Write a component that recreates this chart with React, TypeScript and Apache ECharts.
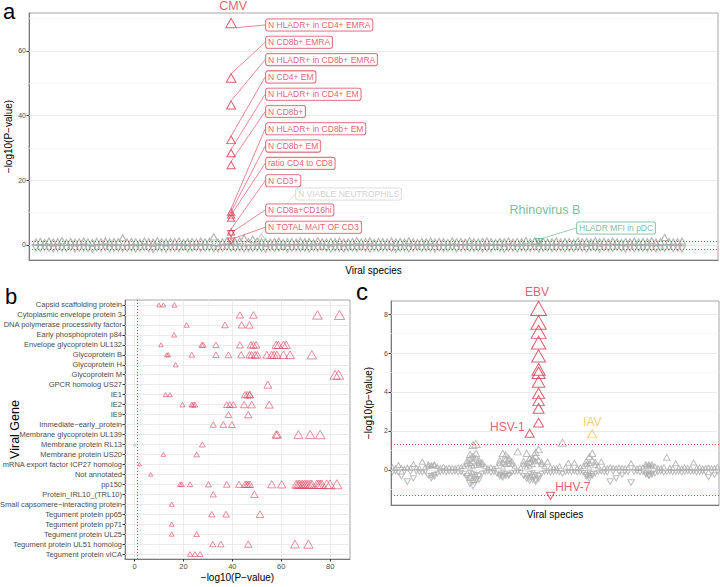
import React, { useEffect, useRef } from 'react';
import * as echarts from 'echarts';

const FONT = 'Liberation Sans, Arial, sans-serif';
const RED = '#d6374f';
const PINK = '#dc4a64';
const GRAY = '#a6a6a6';
const GREEN = '#5aab84';
const YELLOW = '#f0c24f';
const SIG = '#e3423d';

// ---------------- Panel a ----------------
const aUp = [
  0.9, 1.1, 0.8, 1.2, 0.9, 1.0, 1.3, 0.8, 1.1, 0.9,
  1.0, 1.2, 0.9, 0.8, 1.1, 1.0, 1.2, 0.9, 1.1, 1.0,
  2.2, 0.9, 1.1, 1.0, 0.8, 1.2, 1.0, 0.9, 1.3, 1.0,
  0.9, 1.1, 1.0, 1.2, 0.8, 1.0, 1.1, 0.9, 1.2, 1.0,
  1.1, 2.5, 0.9, 1.0, 1.2, 1.1, 0.9, 1.3, 2.1, 1.0,
  1.8, 1.2, 1.0, 1.0, 0.9, 1.1, 1.2, 0.8, 1.0, 1.1,
  0.9, 1.2, 1.0, 1.1, 0.8, 1.3, 1.0, 0.9, 1.1, 1.0,
  1.2, 0.9, 1.0, 1.1, 1.3, 0.9, 1.0, 1.2, 0.8, 1.1,
  1.0, 0.9, 1.2, 1.0, 1.1, 0.9, 1.3, 1.0, 0.8, 1.1,
  1.0, 1.2, 0.9, 1.1, 1.0, 0.8, 1.2, 1.0, 1.1, 0.9,
  1.3, 1.0, 0.9, 1.1, 1.2, 1.0, 0.8, 1.1, 1.0, 1.2,
  0.9, 1.1, 1.0, 1.3, 0.9, 1.2, 1.0, 1.1, 0.9, 1.0,
  1.2, 0.9, 1.1, 1.0, 0.8, 1.2, 1.0, 1.1, 0.9, 1.3,
  1.0, 1.1, 0.9, 1.2, 1.0, 0.8, 1.1, 1.0, 1.2, 0.9,
  1.1, 1.0, 1.3, 0.9, 1.0, 2.3, 1.1, 0.9, 1.0, 1.2,
];
const aDown = [
  -0.9, -1.1, -0.8, -1.0, -1.2, -0.9, -1.0, -1.1, -0.8, -1.2,
  -1.0, -0.9, -1.1, -1.3, -0.9, -1.0, -0.8, -1.2, -1.0, -0.9,
  -1.1, -1.0, -0.9, -1.2, -1.0, -0.8, -1.1, -1.3, -0.9, -1.0,
  -1.2, -0.9, -1.0, -1.1, -0.8, -1.2, -1.0, -0.9, -1.1, -1.0,
  -0.9, -1.1, -1.2, -1.0, -0.8, -1.0, -1.1, -0.9, -1.2, -1.0,
  -1.1, -0.9, -1.0, -1.3, -0.9, -1.1, -1.0, -0.8, -1.2, -1.0,
  -0.9, -1.1, -1.0, -1.2, -0.9, -1.0, -0.8, -1.1, -1.3, -0.9,
  -1.0, -1.2, -0.9, -1.0, -1.1, -0.8, -1.0, -1.2, -0.9, -1.1,
  -1.0, -0.9, -1.1, -1.3, -1.0, -0.9, -1.2, -1.0, -0.8, -1.1,
  -0.9, -1.0, -1.2, -0.9, -1.1, -1.0, -0.8, -1.2, -1.0, -0.9,
  -1.1, -1.0, -0.9, -1.2, -1.0, -1.1, -0.8, -1.0, -1.3, -0.9,
  -1.0, -1.2, -0.9, -1.1, -1.0, -0.8, -1.2, -1.0, -0.9, -1.1,
  -1.0, -0.9, -1.2, -1.0, -1.1, -0.8, -1.0, -1.3, -0.9, -1.0,
  -1.2, -0.9, -1.0, -1.1, -0.8, -1.0, -1.2, -0.9, -1.1, -1.0,
  -0.9, -1.1, -1.0, -1.2, -0.9, -1.0, -0.8, -1.1, -1.0, -1.2,
];
const cmvIndex = 45;
const cmvUp = [68.6, 51.6, 43.3, 32.5, 28.4, 24.7, 10.2, 9.3, 8.3, 4.0];
const cmvDown = [3.5, 1.2];
const cmvLabels = [
  'N HLADR+ in CD4+ EMRA', 'N CD8b+ EMRA', 'N HLADR+ in CD8b+ EMRA', 'N CD4+ EM',
  'N HLADR+ in CD4+ EM', 'N CD8b+', 'N HLADR+ in CD8b+ EM', 'N CD8b+ EM',
  'ratio CD4 to CD8', 'N CD3+', 'N CD8a+CD16hi', 'N TOTAL MAIT OF CD3',
];
const neutroIndex = 52;
const neutroValue = 2.6;
const neutroLabel = 'N VIABLE NEUTROPHILS';
const rhinoIndex = 116;
const rhinoValue = 1.1;
const rhinoLabel = 'HLADR MFI in pDC';
const aTicks = [0, 20, 40, 60];
const aGrid = [0, 10, 20, 30, 40, 50, 60, 70];
const sigValue = 1.3;

// ---------------- Panel b ----------------
const genes = [
  'Capsid scaffolding protein', 'Cytoplasmic envelope protein 3', 'DNA polymerase processivity factor',
  'Early phosphoprotein p84', 'Envelope glycoprotein UL132', 'Glycoprotein B', 'Glycoprotein H',
  'Glycoprotein M', 'GPCR homolog US27', 'IE1', 'IE2', 'IE9', 'Immediate\u2212early_protein',
  'Membrane glycoprotein UL139', 'Membrane protein RL13', 'Membrane protein US20',
  'mRNA export factor ICP27 homolog', 'Not annotated', 'pp150', 'Protein_IRL10_(TRL10)',
  'Small capsomere\u2212interacting protein', 'Tegument protein pp65', 'Tegument protein pp71',
  'Tegument protein UL25', 'Tegument protein UL51 homolog', 'Tegument protein vICA',
];
const geneHits: number[][] = [
  [10, 11.8, 16.3],
  [43.1, 48.6, 74.8, 83.8],
  [21.3, 37, 43.8, 47],
  [16.2],
  [10.8, 27.5, 28.1, 33.3, 43.1, 47.6, 48.6, 49.7, 57.9, 58.8, 60.9, 62],
  [13.2, 13.8, 23.4, 33.3, 38.4, 43.6, 47, 47.9, 49.3, 50.2, 54.1, 56.1, 57.1, 58.2, 60.9, 63.6, 72.5],
  [16.8],
  [82, 83.4],
  [54.5],
  [12.7, 14.5, 45.2, 46.1, 47, 47.2],
  [19.6, 23.4, 24, 24.7, 37.7, 39, 40.4, 44.8, 47.9, 55.1],
  [38.4, 46.5],
  [32.2, 36.3, 39.8],
  [57.9, 58.4, 67, 71.8, 75.9],
  [27.7],
  [11.8, 25.4],
  [2.0],
  [6.6],
  [18.6, 19.3, 22.7, 30.2, 37.7, 42.7, 45.2, 45.9, 46.5, 47.2, 56.1, 60.2, 66.1, 66.8, 67.4, 68.1,
    68.8, 69.5, 70.2, 70.9, 71.8, 72.5, 74.5, 75.2, 75.9, 76.6, 78.6, 79.9, 82.7],
  [32.2, 49],
  [15.2],
  [31.6, 37.4, 51.3],
  [15.2],
  [15.2, 25.4],
  [32, 35.3, 46.5, 65.6, 71.1],
  [22.7, 24.7, 26.8],
];
const bNonSigGene = 14;
const bNonSigValue = 0;
const bTicks = [0, 20, 40, 60, 80];
const bGrid = [0, 10, 20, 30, 40, 50, 60, 70, 80];

// ---------------- Panel c ----------------
const cUp = [
  0.15, 0.1, 0.26, 0.12, 0.08, 0.14, 0.1, 0.3, 0.12, 0.1,
  0.43, 0.15, 0.2, 0.25, 0.3, 0.18, 0.12, 0.17, 0.1, 0.14,
  0.12, 0.1, 0.15, 0.17, 0.2, 0.45, 0.6, 1.28, 0.85, 0.5,
  0.4, 0.2, 0.12, 0.15, 0.1, 0.18, 0.35, 0.85, 0.77, 0.5,
  0.3, 0.2, 0.94, 0.15, 0.45, 0.85, 0.6, 0.55, 0.7, 1.06,
  0.4, 0.2, 0.43, 0.15, 0.12, 0.1, 0.2, 1.4, 0.15, 0.37,
  0.1, 0.37, 0.12, 0.15, 0.2, 0.45, 0.68, 0.85, 0.4, 0.2,
  0.43, 0.12, 0.1, 0.15, 0.12, 0.1, 0.14, 0.12, 0.1, 0.12,
  0.34, 0.12, 0.1, 0.14, 0.15, 0.3, 0.25, 0.3, 0.2, 0.12,
  0.1, 0.15, 0.65, 0.12, 0.1, 0.34, 0.12, 0.1, 0.15, 0.12,
  0.1, 0.38, 0.12, 0.15, 0.1, 0.12, 0.14, 0.1, 0.12, 0.15,
];
const cDown = [
  -0.12, -0.1, -0.15, -0.34, -0.1, -0.6, -0.12, -0.43, -0.1, -0.12,
  -0.15, -0.1, -0.3, -0.43, -0.35, -0.2, -0.12, -0.1, -0.14, -0.1,
  -0.12, -0.1, -0.15, -0.12, -0.2, -0.4, -0.7, -0.6, -0.5, -0.3,
  -0.2, -0.12, -0.1, -0.15, -0.12, -0.2, -0.34, -0.4, -0.3, -0.25,
  -0.15, -0.12, -0.1, -0.14, -0.3, -0.45, -0.55, -0.35, -0.51, -0.3,
  -0.2, -0.12, -0.1, -0.15, -0.12, -0.1, -0.14, -0.2, -0.12, -0.1,
  -0.12, -0.1, -0.15, -0.12, -0.14, -0.35, -0.45, -0.3, -0.2, -0.12,
  -0.1, -0.12, -0.15, -0.6, -0.1, -0.43, -0.12, -0.26, -0.1, -0.12,
  -0.65, -0.12, -0.1, -0.14, -0.12, -0.2, -0.3, -0.25, -0.2, -0.12,
  -0.1, -0.15, -0.12, -0.1, -0.14, -0.12, -0.1, -0.15, -0.12, -0.1,
  -0.12, -0.1, -0.15, -0.12, -0.1, -0.14, -0.38, -0.12, -0.26, -0.1,
];
const cUpExtra = [
  [25, 0.3], [26, 0.35], [26, 0.8], [27, 0.45], [27, 0.7], [28, 1.33], [28, 0.6], [29, 0.35], [29, 0.25], [30, 0.3],
  [36, 0.5], [37, 0.4], [38, 0.3], [39, 0.6], [39, 0.35], [40, 0.45], [44, 0.3], [45, 0.35], [46, 0.4], [47, 0.3],
  [48, 0.45], [48, 0.9], [49, 0.5], [50, 0.3], [65, 0.3], [66, 0.35], [67, 0.5], [68, 0.25], [85, 0.2], [86, 0.15],
  [87, 0.2], [12, 0.3], [13, 0.2], [14, 0.25],
  [26, 0.15], [27, 0.2], [28, 0.25], [37, 0.15], [38, 0.55], [45, 0.15], [46, 0.2], [47, 0.6], [66, 0.15], [86, 0.3],
];
const cDownExtra = [
  [25, -0.3], [26, -0.45], [27, -0.35], [27, -0.8], [28, -0.25], [29, -0.5], [36, -0.25], [37, -0.3], [38, -0.2],
  [39, -0.3], [45, -0.3], [46, -0.4], [47, -0.5], [48, -0.25], [49, -0.45], [65, -0.25], [66, -0.3], [67, -0.2],
  [85, -0.25], [86, -0.3], [87, -0.18], [13, -0.3], [14, -0.25],
  [26, -0.15], [27, -0.2], [28, -0.55], [37, -0.15], [46, -0.2], [47, -0.15], [48, -0.6], [66, -0.15], [86, -0.15],
];
const ebvIndex = 49;
const ebvValues = [8.29, 7.57, 7.09, 6.53, 5.85, 5.16, 4.99, 4.53, 3.93, 3.56, 3.16, 2.43];
const hsv1Index = 46;
const hsv1Value = 1.88;
const iavIndex = 67;
const iavValue = 1.85;
const hhv7Index = 53;
const hhv7Value = -1.33;
const cTicks = [0, 2, 4, 6, 8];
const cGrid = [-1, 0, 1, 2, 3, 4, 5, 6, 7, 8];

// ---------------- helpers ----------------
const hollow = (color: string, width = 1) => ({ color: 'rgba(0,0,0,0)', borderColor: color, borderWidth: width });
const triSize = (s: number) => [s, s * 0.88];
const aSize = (v: number[]) => triSize(6.8 + 0.055 * Math.abs(v[1]));
const bSize = (v: number[]) => triSize(3.6 + 0.08 * Math.abs(v[0]));
const cSize = (v: number[]) => triSize(Math.max(4.8, 3 + 4.5 * Math.sqrt(Math.abs(v[1]))));

const axisLineStyle = { show: true, onZero: false, lineStyle: { color: '#7a7a7a', width: 1 } };
const tickLabel = { fontSize: 7.5, color: '#4d4d4d', fontFamily: FONT };
const nameStyle = { fontSize: 10, color: '#000', fontFamily: FONT };

function lineSeries(xi: number, yi: number, items: any[], z: number) {
  return {
    type: 'scatter', xAxisIndex: xi, yAxisIndex: yi, data: [], silent: true,
    markLine: { silent: true, z, symbol: ['none', 'none'], label: { show: false }, animation: false, data: items },
  };
}
const gridItem = (key: string, v: any, major: boolean) => ({
  [key]: v,
  lineStyle: { color: major ? '#e6e6e6' : '#f1f1f1', width: major ? 0.8 : 0.6, type: 'solid' },
});
const sigItem = (key: string, v: number) => ({ [key]: v, lineStyle: { color: SIG, width: 1, type: [1, 2] } });

function buildOption() {
  const base = { silent: true, emphasis: { disabled: true }, animation: false };
  const aLabelY = (k: number) => (k < 10 ? 25 + 17.3 * k : 210 + 17.3 * (k - 10));
  const boxLabel = (color: string, border: string) => ({
    show: true, formatter: '{b}', fontSize: 8.5, fontFamily: FONT, color,
    backgroundColor: '#fff', borderColor: border, borderWidth: 0.8, borderRadius: 2, padding: [1.5, 2, 1, 2],
  });

  const cmvData = [
    ...cmvUp.map((v, k) => ({ name: cmvLabels[k], value: [cmvIndex, v], symbolRotate: 0 })),
    ...cmvDown.map((v, k) => ({ name: cmvLabels[cmvUp.length + k], value: [cmvIndex, v], symbolRotate: 180 })),
  ];

  const bData: number[][] = [];
  geneHits.forEach((vals, gi) => vals.forEach((v) => bData.push([v, gi])));

  const series: any[] = [
    // ---- panel a ----
    lineSeries(0, 0, aGrid.map((v) => gridItem('yAxis', v, v % 20 === 0)), 1),
    { ...base, type: 'scatter', xAxisIndex: 0, yAxisIndex: 0, symbol: 'triangle', symbolSize: aSize,
      itemStyle: hollow(GRAY, 1.2), data: aUp.map((v, i) => [i, v]) },
    { ...base, type: 'scatter', xAxisIndex: 0, yAxisIndex: 0, symbol: 'triangle', symbolRotate: 180, symbolSize: aSize,
      itemStyle: hollow(GRAY, 1.2), data: aDown.map((v, i) => [i, v]) },
    lineSeries(0, 0, [sigItem('yAxis', sigValue), sigItem('yAxis', -sigValue)], 6),
    { ...base, type: 'scatter', xAxisIndex: 0, yAxisIndex: 0, symbol: 'triangle', symbolSize: aSize, z: 4,
      itemStyle: hollow('#c4c4c4', 1), data: [{ name: neutroLabel, value: [neutroIndex, neutroValue] }],
      label: boxLabel('#c4c4c4', '#d0d0d0'),
      labelLine: { show: true, lineStyle: { color: '#cfcfcf', width: 0.6 } },
      labelLayout: () => ({ x: 296, y: 194, align: 'left', verticalAlign: 'middle' }) },
    { ...base, type: 'scatter', xAxisIndex: 0, yAxisIndex: 0, symbol: 'triangle', symbolSize: aSize, z: 5,
      itemStyle: hollow(RED, 1), data: cmvData,
      label: boxLabel(RED, RED),
      labelLine: { show: true, lineStyle: { color: RED, width: 0.6 } },
      labelLayout: (p: any) => ({ x: 266, y: aLabelY(p.dataIndex), align: 'left', verticalAlign: 'middle' }) },
    { ...base, type: 'scatter', xAxisIndex: 0, yAxisIndex: 0, symbol: 'triangle', symbolRotate: 180, symbolSize: aSize, z: 5,
      itemStyle: hollow(GREEN, 1), data: [{ name: rhinoLabel, value: [rhinoIndex, rhinoValue] }],
      label: boxLabel(GREEN, GREEN),
      labelLine: { show: true, lineStyle: { color: GREEN, width: 0.6 } },
      labelLayout: () => ({ x: 577, y: 228, align: 'left', verticalAlign: 'middle' }) },
    { ...base, type: 'scatter', xAxisIndex: 0, yAxisIndex: 0, symbolSize: 1, z: 6,
      itemStyle: { color: 'rgba(0,0,0,0)' },
      label: { show: true, formatter: '{b}', position: 'inside', fontSize: 12.5, fontFamily: FONT },
      data: [
        { name: 'CMV', value: [cmvIndex, cmvUp[0]], label: { color: RED, offset: [2, -17] } },
        { name: 'Rhinovirus B', value: [rhinoIndex, rhinoValue], label: { color: GREEN, offset: [6, -31] } },
      ] },

    // ---- panel b ----
    lineSeries(1, 1, [
      ...bGrid.map((v) => gridItem('xAxis', v, v % 20 === 0)),
      ...genes.map((g, gi) => gridItem('yAxis', gi, true)),
    ], 1),
    lineSeries(1, 1, [sigItem('xAxis', sigValue)], 6),
    { ...base, type: 'scatter', xAxisIndex: 1, yAxisIndex: 1, symbol: 'triangle', symbolSize: bSize,
      itemStyle: hollow(PINK, 0.8), data: bData },
    { ...base, type: 'scatter', xAxisIndex: 1, yAxisIndex: 1, symbol: 'triangle', symbolSize: triSize(3),
      itemStyle: hollow('#bdbdbd', 0.8), data: [[bNonSigValue, bNonSigGene]] },

    // ---- panel c ----
    lineSeries(2, 2, cGrid.map((v) => gridItem('yAxis', v, v % 2 === 0)), 1),
    { ...base, type: 'scatter', xAxisIndex: 2, yAxisIndex: 2, symbol: 'triangle', symbolSize: cSize,
      itemStyle: hollow('#adadad', 1), data: [...cUp.map((v, i) => [i, v]), ...cUpExtra] },
    { ...base, type: 'scatter', xAxisIndex: 2, yAxisIndex: 2, symbol: 'triangle', symbolRotate: 180, symbolSize: cSize,
      itemStyle: hollow('#adadad', 1), data: [...cDown.map((v, i) => [i, v]), ...cDownExtra] },
    lineSeries(2, 2, [sigItem('yAxis', sigValue), sigItem('yAxis', -sigValue)], 6),
    { ...base, type: 'scatter', xAxisIndex: 2, yAxisIndex: 2, symbol: 'triangle', symbolSize: cSize, z: 5,
      itemStyle: hollow(RED, 1), data: [...ebvValues.map((v) => [ebvIndex, v]), [hsv1Index, hsv1Value]] },
    { ...base, type: 'scatter', xAxisIndex: 2, yAxisIndex: 2, symbol: 'triangle', symbolSize: cSize, z: 5,
      itemStyle: hollow(YELLOW, 1), data: [[iavIndex, iavValue]] },
    { ...base, type: 'scatter', xAxisIndex: 2, yAxisIndex: 2, symbol: 'triangle', symbolRotate: 180, symbolSize: cSize, z: 5,
      itemStyle: hollow(RED, 1), data: [[hhv7Index, hhv7Value]] },
    { ...base, type: 'scatter', xAxisIndex: 2, yAxisIndex: 2, symbolSize: 1, z: 6,
      itemStyle: { color: 'rgba(0,0,0,0)' },
      label: { show: true, formatter: '{b}', position: 'inside', fontSize: 12, fontFamily: FONT },
      data: [
        { name: 'EBV', value: [ebvIndex, ebvValues[0]], label: { color: RED, offset: [-1.5, -16] } },
        { name: 'HSV-1', value: [hsv1Index, hsv1Value], label: { color: RED, align: 'right', offset: [-5, -6.6] } },
        { name: 'IAV', value: [iavIndex, iavValue], label: { color: YELLOW, offset: [0, -12.2] } },
        { name: 'HHV-7', value: [hhv7Index, hhv7Value], label: { color: RED, align: 'left', offset: [4.6, -9.2] } },
      ] },
  ];

  const gridBase = { show: true, borderColor: '#a6a6a6', borderWidth: 1, backgroundColor: '#fff',
    containLabel: false, outerBoundsMode: 'none' };

  return {
    animation: false,
    backgroundColor: '#fff',
    textStyle: { fontFamily: FONT },
    grid: [
      { ...gridBase, left: 29, top: 13, width: 689, height: 247 },
      { ...gridBase, left: 125, top: 300, width: 225, height: 259 },
      { ...gridBase, left: 391, top: 301, width: 328, height: 204 },
    ],
    xAxis: [
      { gridIndex: 0, type: 'value', min: -1.61, max: 157.3, axisLine: axisLineStyle, axisTick: { show: false },
        axisLabel: { show: false }, splitLine: { show: false }, nameMoveOverlap: false,
        name: 'Viral species', nameLocation: 'middle', nameGap: 5, nameTextStyle: nameStyle },
      { gridIndex: 1, type: 'value', min: -3.9, max: 88.1, axisLine: axisLineStyle,
        axisTick: { show: true, length: 2.5, customValues: bTicks, lineStyle: { color: '#333' } },
        axisLabel: { ...tickLabel, margin: 3, customValues: bTicks }, splitLine: { show: false }, nameMoveOverlap: false,
        name: '\u2212log10(P\u2212value)', nameLocation: 'middle', nameGap: 13, nameTextStyle: nameStyle },
      { gridIndex: 2, type: 'value', min: -0.5, max: 109.5, axisLine: axisLineStyle, axisTick: { show: false },
        axisLabel: { show: false }, splitLine: { show: false }, nameMoveOverlap: false,
        name: 'Viral species', nameLocation: 'middle', nameGap: 4, nameTextStyle: nameStyle },
    ],
    yAxis: [
      { gridIndex: 0, type: 'value', min: -4.64, max: 71.7, axisLine: axisLineStyle,
        axisTick: { show: true, length: 2.5, customValues: aTicks, lineStyle: { color: '#333' } },
        axisLabel: { ...tickLabel, fontSize: 7, margin: 3, customValues: aTicks }, splitLine: { show: false },
        nameMoveOverlap: false,
        name: '\u2212log10(P\u2212value)', nameLocation: 'middle', nameGap: 16, nameTextStyle: nameStyle },
      { gridIndex: 1, type: 'category', data: genes, inverse: true, axisLine: axisLineStyle,
        axisTick: { show: true, length: 2.5, alignWithLabel: true, interval: 0, lineStyle: { color: '#333' } },
        axisLabel: { ...tickLabel, margin: 3, interval: 0 }, splitLine: { show: false }, nameMoveOverlap: false,
        name: 'Viral Gene', nameLocation: 'middle', nameGap: 104, nameTextStyle: { ...nameStyle, fontSize: 12.5 } },
      { gridIndex: 2, type: 'value', min: -1.8, max: 8.67, axisLine: axisLineStyle,
        axisTick: { show: true, length: 2.5, customValues: cTicks, lineStyle: { color: '#333' } },
        axisLabel: { ...tickLabel, fontSize: 7, margin: 3, customValues: cTicks }, splitLine: { show: false },
        nameMoveOverlap: false,
        name: '\u2212log10(p\u2212value)', nameLocation: 'middle', nameGap: 18, nameTextStyle: nameStyle },
    ],
    graphic: [
      { type: 'text', x: 3, y: 11, style: { text: 'a', fontSize: 22, fontFamily: FONT, fill: '#000', verticalAlign: 'middle' } },
      { type: 'text', x: 5, y: 296, style: { text: 'b', fontSize: 22, fontFamily: FONT, fill: '#000', verticalAlign: 'middle' } },
      { type: 'text', x: 356, y: 291, style: { text: 'c', fontSize: 24, fontFamily: FONT, fill: '#000', verticalAlign: 'middle' } },
    ],
    series,
  };
}

export default function App() {
  const ref = useRef<HTMLDivElement>(null);
  useEffect(() => {
    if (!ref.current) return;
    const chart = echarts.init(ref.current, null, { renderer: 'svg' });
    chart.setOption(buildOption() as any);
    return () => chart.dispose();
  }, []);
  return <div ref={ref} style={{ position: 'absolute', left: 0, top: 0, width: 720, height: 587 }} />;
}
